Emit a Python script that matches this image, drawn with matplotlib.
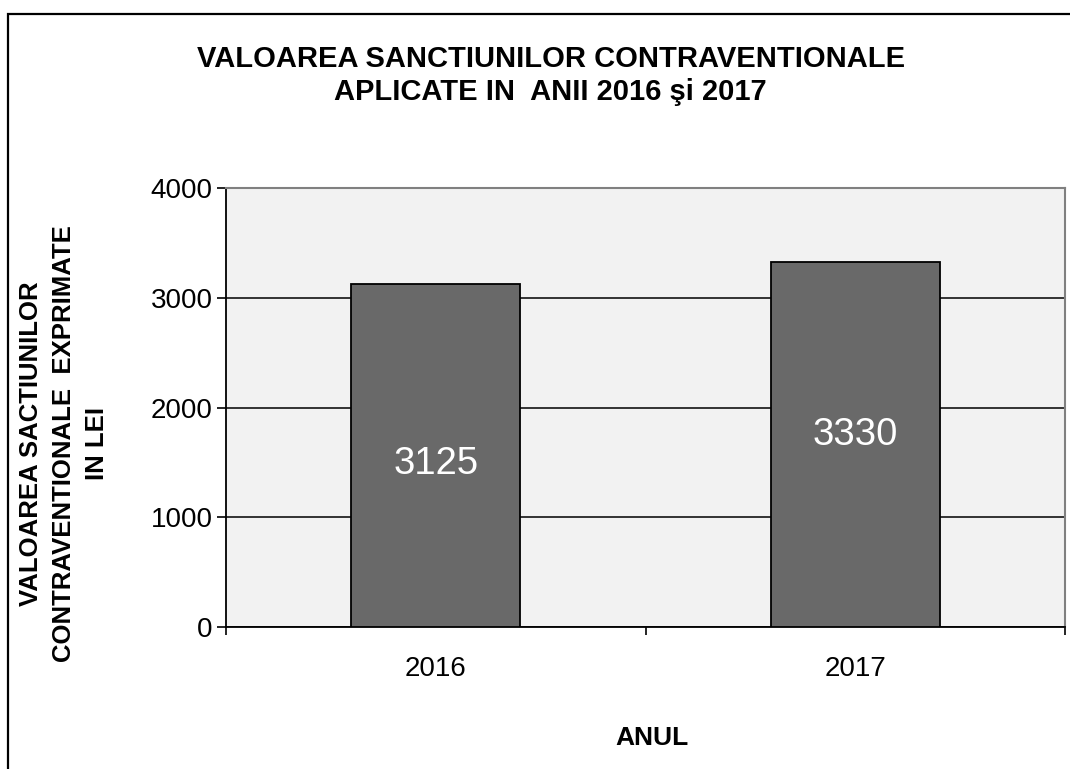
import numpy as np
import matplotlib.pyplot as plt
from matplotlib.patches import Rectangle

# Date
ani = ['2016', '2017']
valori = [3125, 3330]
# pozitia etichetei in interiorul barei, ca fractie din valoare
poz_eticheta = [0.476, 0.526]

plt.rcParams['font.family'] = ['Liberation Sans', 'DejaVu Sans']

W, H = 1070, 769
fig = plt.figure(figsize=(W/100, H/100), dpi=100)
ax = fig.add_axes([226/W, 1 - 627/H, (1065-226)/W, (627-188)/H])

x = np.arange(len(ani))
ax.set_facecolor('#f2f2f2')
ax.bar(x, valori, width=0.403, color='#696969', edgecolor='black', linewidth=1.3, zorder=3)

for xi, v, p in zip(x, valori, poz_eticheta):
    ax.text(xi, v*p, str(v), ha='center', va='center', color='white', fontsize=27.5, zorder=4)

ax.set_xlim(-0.5, 1.5)
ax.set_ylim(0, 4000)
ax.set_yticks([0, 1000, 2000, 3000, 4000])
ax.yaxis.grid(True, color='black', linewidth=1.1, zorder=1)
ax.set_axisbelow(True)

# ticks majore la marginile categoriilor, etichete centrate
ax.set_xticks([-0.5, 0.5, 1.5])
ax.set_xticklabels(['', '', ''])
ax.set_xticks(x, minor=True)
ax.set_xticklabels(ani, minor=True)
ax.tick_params(axis='x', which='minor', length=0, pad=21, labelsize=20)
ax.tick_params(axis='x', which='major', length=6, width=1.2)
ax.tick_params(axis='y', length=6.5, width=1.2, labelsize=20, pad=3)

for s in ['left', 'bottom']:
    ax.spines[s].set_color('black')
    ax.spines[s].set_linewidth(1.3)
for s in ['right', 'top']:
    ax.spines[s].set_color('#808080')
    ax.spines[s].set_linewidth(1.5)

fig.text(551/W, 1 - 67/H, 'VALOAREA SANCTIUNILOR CONTRAVENTIONALE', ha='center', va='baseline',
         fontsize=21, fontweight='bold')
fig.text(550/W, 1 - 100/H, 'APLICATE IN  ANII 2016 şi 2017', ha='center', va='baseline',
         fontsize=21, fontweight='bold')

fig.text(64/W, 1 - 444/H, 'VALOAREA SACTIUNILOR\nCONTRAVENTIONALE  EXPRIMATE\nIN LEI',
         ha='center', va='center', rotation=90, fontsize=18.5, fontweight='bold',
         linespacing=1.45)

fig.text(652/W, 1 - 738/H, 'ANUL', ha='center', va='center', fontsize=19, fontweight='bold')

# chenarul figurii
fig.patches.append(Rectangle((8/W, -0.05), 1.2, 1 - 14/H + 0.05, transform=fig.transFigure,
                             fill=False, edgecolor='black', linewidth=1.6))

fig.savefig('out.png', dpi=100)
